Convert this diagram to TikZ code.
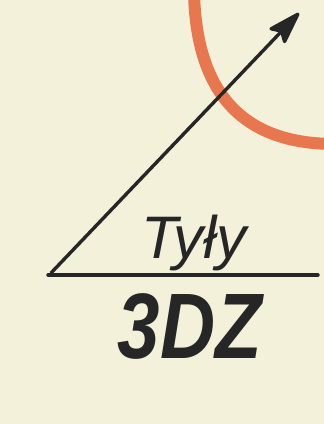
\documentclass[tikz,border=0pt]{standalone}
\usepackage{fontspec}
\newfontfamily\handfont{Liberation Sans}
\usetikzlibrary{arrows.meta}
\definecolor{paper}{HTML}{F3F1DA}
\definecolor{ink}{HTML}{262626}
\definecolor{redpen}{HTML}{E8764F}
\tikzset{
  inkline/.style={draw=ink, line width=3.4pt, line cap=round},
  handtext/.style={text=ink, inner sep=0pt, anchor=base}
}
\begin{document}
\begin{tikzpicture}[x=1pt,y=-1pt]
\fill[paper] (0,0) rectangle (324,424);
\useasboundingbox (0,0) rectangle (324,424);
\begin{scope}
\clip (0,0) rectangle (324,424);
\draw[redpen, line width=12pt] (194,-8) .. controls (196,90) and (240,144) .. (335,144);
\end{scope}
\coordinate (tail) at (51,273);
\coordinate (tip) at (299,13);
\coordinate (lineL) at (48,275);
\coordinate (lineR) at (318,275);
\draw[inkline] (lineL) -- (lineR);
\draw[inkline, -{Stealth[length=38pt,width=24pt,inset=7pt,round]}] (tail) -- (tip);
\node[handtext, font=\handfont\itshape\fontsize{60}{60}\selectfont] (tyly) at (194,258) {Tyły};
\node[handtext, font=\handfont\bfseries\itshape\fontsize{93}{93}\selectfont, xscale=0.82] (dz) at (190,358) {3DZ};
\end{tikzpicture}
\end{document}
